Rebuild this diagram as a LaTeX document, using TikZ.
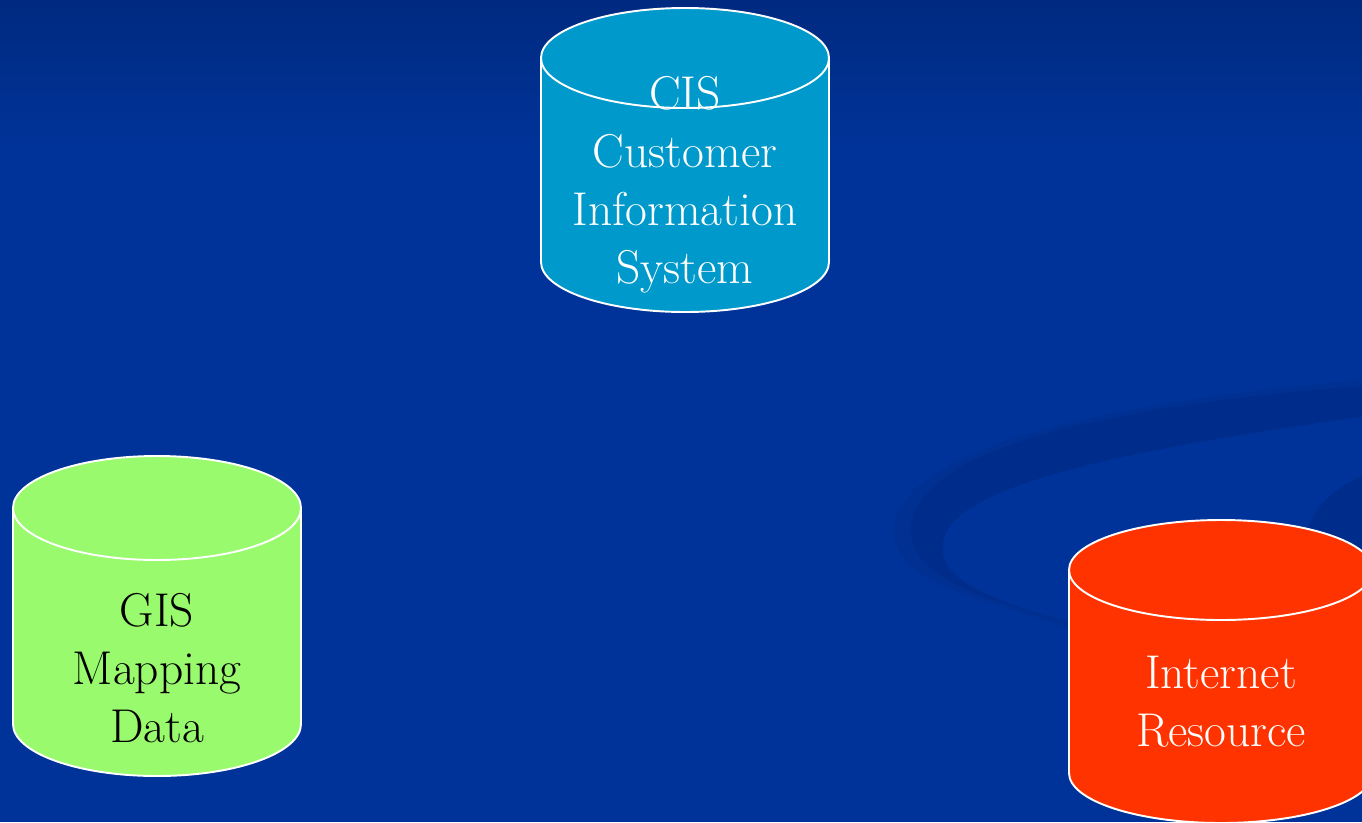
\documentclass[tikz,border=0pt]{standalone}
\usepackage{fontspec}
\usepackage{tikz}

\definecolor{slideblue}{RGB}{0,51,153}
\definecolor{slidetop}{RGB}{0,42,128}
\definecolor{swoosh}{RGB}{0,45,139}
\definecolor{swooshlight}{RGB}{0,48,146}
\definecolor{cisfill}{RGB}{0,153,204}
\definecolor{gisfill}{RGB}{153,250,110}
\definecolor{webfill}{RGB}{255,51,0}

\begin{document}
\begin{tikzpicture}[
    x=0.02cm, y=-0.02cm,
    body/.style={draw=white, line width=1.1pt},
    rim/.style={draw=white, line width=1.1pt},
    lbl/.style={align=center, inner sep=0pt,
        font=\fontsize{27}{33}\selectfont}
]
    \useasboundingbox (0,0) rectangle (1362,822);
    \clip (0,0) rectangle (1362,822);

    % background
    \fill[slideblue] (0,0) rectangle (1362,822);
    \shade[top color=slidetop, bottom color=slideblue] (0,0) rectangle (1362,150);

    % swoosh behind the right cylinder
    \fill[swooshlight] (1362,380) .. controls (1120,400) and (960,440) .. (912,492)
        .. controls (870,540) and (900,580) .. (1000,606) -- (1075,630)
        -- (1075,622) .. controls (980,600) and (920,575) .. (930,530)
        .. controls (950,480) and (1120,440) .. (1362,410) -- cycle;
    \fill[swoosh] (1362,386) .. controls (1120,405) and (980,440) .. (930,490)
        .. controls (890,530) and (910,575) .. (1000,602) -- (1075,626)
        .. controls (990,598) and (930,580) .. (945,535)
        .. controls (965,485) and (1120,450) .. (1362,417) -- cycle;
    \fill[swoosh] (1300,550) .. controls (1310,510) and (1330,490) .. (1362,476)
        -- (1362,560) -- cycle;

    % CIS cylinder
    \filldraw[body, fill=cisfill] (541,58) -- (541,262)
        arc[start angle=180, end angle=0, x radius=144, y radius=50]
        -- (829,58) arc[start angle=0, end angle=-180, x radius=144, y radius=50] -- cycle;
    \draw[rim] (541,58) arc[start angle=180, end angle=0, x radius=144, y radius=50];
    \node[lbl, text=white] (cis) at (685,185)
        {CIS\\Customer\\Information\\System};

    % GIS cylinder
    \filldraw[body, fill=gisfill] (13,508) -- (13,724)
        arc[start angle=180, end angle=0, x radius=144, y radius=52]
        -- (301,508) arc[start angle=0, end angle=-180, x radius=144, y radius=52] -- cycle;
    \draw[rim] (13,508) arc[start angle=180, end angle=0, x radius=144, y radius=52];
    \node[lbl, text=black] (gis) at (157,668) {GIS\\Mapping\\Data};

    % Internet cylinder
    \filldraw[body, fill=webfill] (1069,570) -- (1069,773)
        arc[start angle=180, end angle=0, x radius=152, y radius=50]
        -- (1373,570) arc[start angle=0, end angle=-180, x radius=152, y radius=50] -- cycle;
    \draw[rim] (1069,570) arc[start angle=180, end angle=0, x radius=152, y radius=50];
    \node[lbl, text=white] (web) at (1221,702) {Internet\\Resource};
\end{tikzpicture}
\end{document}
